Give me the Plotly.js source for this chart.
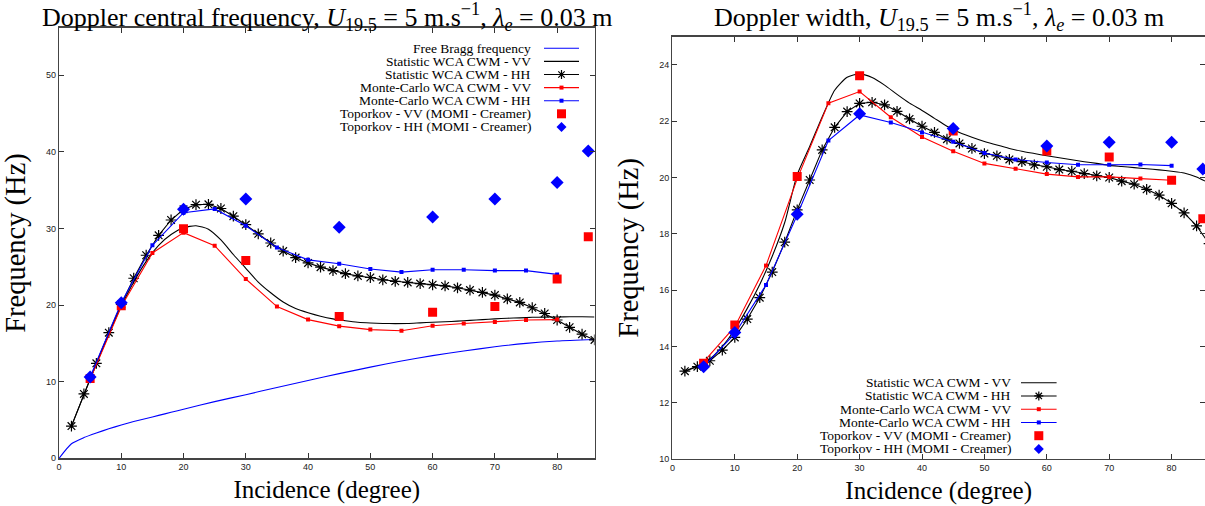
<!DOCTYPE html>
<html>
<head>
<meta charset="utf-8">
<script src="https://cdn.plot.ly/plotly-3.0.1.min.js"></script>
<style>html,body{margin:0;padding:0;background:#fff;}#chart{width:1205px;height:506px;}</style>
</head>
<body>
<div id="chart"></div>
<script>
// ---------- data ----------
const statAngles = [2,4,6,8,10,12,14,16,18,20,22,24,26,28,30,32,34,36,38,40,42,44,46,48,50,52,54,56,58,60,62,64,66,68,70,72,74,76,78,80,82,84,86];
const mcAngles = [5,10,15,20,25,30,35,40,45,50,55,60,65,70,75,80];
const topAngles = [5,10,20,30,45,60,70,80,85];
const braggAngles = [0,2,4,6,8,10,12,14,16,18,20,25,30,35,40,45,50,55,60,65,70,75,80,86];

// Doppler central frequency (Hz)
const braggFreq = [0,1.9,2.7,3.3,3.85,4.35,4.8,5.2,5.6,6.0,6.4,7.4,8.3,9.25,10.15,11.05,11.9,12.7,13.4,14.0,14.55,15.0,15.3,15.5];
const statVVCentral = [4.2,8.3,12.3,16.2,19.8,23.0,25.7,27.8,29.2,30.1,30.35,29.9,28.5,26.6,24.8,23.0,21.6,20.4,19.55,19.0,18.55,18.2,17.95,17.75,17.65,17.6,17.58,17.6,17.68,17.75,17.83,17.9,18.0,18.1,18.2,18.28,18.33,18.4,18.43,18.45,18.47,18.47,18.45];
const statHHCentral = [4.2,8.4,12.4,16.4,20.1,23.5,26.5,29.1,31.1,32.5,33.1,33.15,32.6,31.6,30.5,29.3,28.1,27.05,26.2,25.5,24.95,24.5,24.1,23.8,23.6,23.3,23.1,22.95,22.8,22.65,22.5,22.25,21.95,21.65,21.3,20.8,20.35,19.65,18.9,18.05,17.1,16.2,15.45];
const mcVVCentral = [10.3,19.8,26.8,29.45,27.75,23.4,19.8,18.1,17.25,16.8,16.65,17.3,17.6,17.8,18.05,18.1];
const mcHHCentral = [10.6,20.3,27.8,32.05,32.55,30.35,27.5,25.9,25.4,24.7,24.3,24.6,24.6,24.5,24.5,24.0];
const topVVCentral = [10.4,19.9,29.95,25.8,18.5,19.05,19.8,23.4,28.9];
const topHHCentral = [10.6,20.3,32.5,33.85,30.15,31.5,33.85,36.0,40.1];

// Doppler width (Hz)
const statVVWidth = [13.12,13.3,13.55,14.0,14.6,15.35,16.2,17.2,18.4,20.1,21.1,22.15,23.1,23.56,23.68,23.55,23.28,22.95,22.64,22.38,22.1,21.82,21.6,21.43,21.28,21.15,21.03,20.93,20.85,20.77,20.7,20.63,20.56,20.5,20.43,20.39,20.35,20.31,20.27,20.22,20.16,20.02,19.8];
const statHHWidth = [13.12,13.28,13.49,13.87,14.32,14.97,15.73,16.64,17.7,18.85,19.91,20.98,21.78,22.34,22.63,22.67,22.58,22.35,22.08,21.82,21.6,21.36,21.21,21.03,20.85,20.77,20.64,20.56,20.45,20.38,20.28,20.22,20.14,20.06,20.0,19.87,19.76,19.58,19.37,19.08,18.74,18.28,17.65];
const mcVVWidth = [13.45,14.7,16.87,19.95,22.64,23.05,22.14,21.44,20.93,20.5,20.31,20.12,20.02,20.02,19.96,19.9];
const mcHHWidth = [13.28,14.45,16.18,18.67,21.31,22.22,21.95,21.6,21.27,20.87,20.64,20.53,20.45,20.45,20.46,20.42];
const topVVWidth = [13.4,14.76,20.03,23.61,21.65,20.94,20.73,19.9,18.53];
const topHHWidth = [13.28,14.49,18.69,22.26,21.74,21.12,21.25,21.25,20.3];

const seriesNames = ["Free Bragg frequency","Statistic WCA CWM - VV","Statistic WCA CWM - HH","Monte-Carlo WCA CWM - VV","Monte-Carlo WCA CWM - HH","Toporkov - VV (MOMI - Creamer)","Toporkov - HH (MOMI - Creamer)"];
const leftTitle = "Doppler central frequency, <i>U</i><sub>19.5</sub> = 5 m.s<sup>−1</sup>, <i>λ<sub>e</sub></i> = 0.03 m";
const rightTitle = "Doppler width, <i>U</i><sub>19.5</sub> = 5 m.s<sup>−1</sup>, <i>λ<sub>e</sub></i> = 0.03 m";
const xTitle = "Incidence (degree)";
const yTitle = "Frequency (Hz)";
const xTicks = [0,10,20,30,40,50,60,70,80];
const yTicksLeft = [0,10,20,30,40,50];
const yTicksRight = [10,12,14,16,18,20,22,24];

// ---------- styles ----------
const RED = "#ff0000", BLUE = "#0000ff", BLACK = "#000000";
const serif = "Liberation Serif";
const sans = "Liberation Sans";
const W = 1205, H = 506;

// per-series style (index matches seriesNames)
const styles = [
  {color: BLUE, line: true, marker: null},
  {color: BLACK, line: true, marker: null},
  {color: BLACK, line: true, marker: "asterisk"},
  {color: RED, line: true, marker: "small"},
  {color: BLUE, line: true, marker: "small"},
  {color: RED, line: false, marker: "square"},
  {color: BLUE, line: false, marker: "diamond"}
];

function makeSet(xa, ya, d, withBragg) {
  const t = [];
  if (withBragg) {
    t.push({x: braggAngles, y: braggFreq, xaxis: xa, yaxis: ya, name: seriesNames[0],
      mode: "lines", line: {color: BLUE, width: 1.1, shape: "spline", smoothing: 0.6}});
  }
  t.push({x: statAngles, y: d.statVV, xaxis: xa, yaxis: ya, name: seriesNames[1],
    mode: "lines", line: {color: BLACK, width: 1.1, shape: "spline", smoothing: 0.6}});
  t.push({x: statAngles, y: d.statHH, xaxis: xa, yaxis: ya, name: seriesNames[2],
    mode: "lines+markers", line: {color: BLACK, width: 1.1},
    marker: {symbol: "asterisk-open", size: 9, color: BLACK, line: {color: BLACK, width: 1.2}}});
  t.push({x: mcAngles, y: d.mcVV, xaxis: xa, yaxis: ya, name: seriesNames[3],
    mode: "lines+markers", line: {color: RED, width: 1.1},
    marker: {symbol: "square", size: 4, color: RED}});
  t.push({x: mcAngles, y: d.mcHH, xaxis: xa, yaxis: ya, name: seriesNames[4],
    mode: "lines+markers", line: {color: BLUE, width: 1.1},
    marker: {symbol: "square", size: 4, color: BLUE}});
  t.push({x: topAngles, y: d.topVV, xaxis: xa, yaxis: ya, name: seriesNames[5],
    mode: "markers", marker: {symbol: "square", size: 9, color: RED}});
  t.push({x: topAngles, y: d.topHH, xaxis: xa, yaxis: ya, name: seriesNames[6],
    mode: "markers", marker: {symbol: "diamond", size: 10, color: BLUE}});
  return t;
}

const traces = [].concat(
  makeSet("x", "y", {statVV: statVVCentral, statHH: statHHCentral, mcVV: mcVVCentral, mcHH: mcHHCentral, topVV: topVVCentral, topHH: topHHCentral}, true),
  makeSet("x2", "y2", {statVV: statVVWidth, statHH: statHHWidth, mcVV: mcVVWidth, mcHH: mcHHWidth, topVV: topVVWidth, topHH: topHHWidth}, false)
);

// ---------- gnuplot-style key (text right-aligned, sample on the right) ----------
const annotations = [];
const shapes = [];
function px(x) { return x / W; }
function py(y) { return (H - y) / H; }
function addKey(indices, textRight, sampleL, sampleR, rowTop, rowStep) {
  indices.forEach((si, i) => {
    const yy = rowTop + i * rowStep;
    const st = styles[si];
    annotations.push({text: seriesNames[si], xref: "paper", yref: "paper", x: px(textRight), y: py(yy),
      xanchor: "right", yanchor: "middle", showarrow: false, font: {family: serif, size: 13.5, color: "#000"}});
    const cx = px((sampleL + sampleR) / 2), cy = py(yy);
    if (st.line) {
      shapes.push({type: "line", xref: "paper", yref: "paper", x0: px(sampleL), x1: px(sampleR), y0: cy, y1: cy,
        line: {color: st.color, width: 1.1}});
    }
    const pix = {xref: "paper", yref: "paper", xsizemode: "pixel", ysizemode: "pixel", xanchor: cx, yanchor: cy};
    if (st.marker === "small") {
      shapes.push(Object.assign({type: "rect", x0: -2, x1: 2, y0: -2, y1: 2, fillcolor: st.color, line: {width: 0}}, pix));
    } else if (st.marker === "square") {
      shapes.push(Object.assign({type: "rect", x0: -4.5, x1: 4.5, y0: -4.5, y1: 4.5, fillcolor: st.color, line: {width: 0}}, pix));
    } else if (st.marker === "diamond") {
      shapes.push(Object.assign({type: "path", path: "M0,5L5,0L0,-5L-5,0Z", fillcolor: st.color, line: {width: 0}}, pix));
    } else if (st.marker === "asterisk") {
      shapes.push(Object.assign({type: "path", path: "M-4.5,0L4.5,0M0,-4.5L0,4.5M-3.2,-3.2L3.2,3.2M-3.2,3.2L3.2,-3.2",
        line: {color: st.color, width: 1.2}}, pix));
    }
  });
}
addKey([0,1,2,3,4,5,6], 533, 544, 579, 48.3, 13.1);
addKey([1,2,3,4,5,6], 1012.6, 1021, 1056.6, 382.7, 13.25);

annotations.push(
  {text: leftTitle, xref: "paper", yref: "paper", x: px(327), y: py(17), xanchor: "center", yanchor: "middle",
    showarrow: false, font: {family: serif, size: 26, color: "#000"}},
  {text: rightTitle, xref: "paper", yref: "paper", x: px(939), y: py(17), xanchor: "center", yanchor: "middle",
    showarrow: false, font: {family: serif, size: 26, color: "#000"}}
);

const axisCommon = {
  showline: true, linecolor: "#444", linewidth: 1.3, mirror: "ticks",
  ticks: "inside", ticklen: 5, tickwidth: 1, tickcolor: "#333",
  showgrid: false, zeroline: false, automargin: false,
  tickfont: {family: sans, size: 9, color: "#222"}
};

const layout = {
  width: W, height: H,
  margin: {l: 0, r: 0, t: 0, b: 0},
  paper_bgcolor: "#fff", plot_bgcolor: "#fff",
  showlegend: false,
  xaxis: Object.assign({}, axisCommon, {domain: [px(59), px(594.5)], range: [0, 86], tickvals: xTicks, anchor: "y",
    title: {text: xTitle, font: {family: serif, size: 25, color: "#000"}, standoff: 9}}),
  yaxis: Object.assign({}, axisCommon, {domain: [py(458.3), py(27.7)], range: [0, 56.2], tickvals: yTicksLeft, anchor: "x",
    title: {text: yTitle, font: {family: serif, size: 28.5, color: "#000"}, standoff: 12}}),
  xaxis2: Object.assign({}, axisCommon, {domain: [px(672.4), 1], range: [0, 85.35], tickvals: xTicks, anchor: "y2",
    title: {text: xTitle, font: {family: serif, size: 25, color: "#000"}, standoff: 9}}),
  yaxis2: Object.assign({}, axisCommon, {domain: [py(459), py(36.7)], range: [10, 25], tickvals: yTicksRight, anchor: "x2",
    title: {text: yTitle, font: {family: serif, size: 28.5, color: "#000"}, standoff: 12}}),
  annotations: annotations,
  shapes: shapes
};

Plotly.newPlot("chart", traces, layout, {displayModeBar: false, staticPlot: true});
</script>
</body>
</html>
